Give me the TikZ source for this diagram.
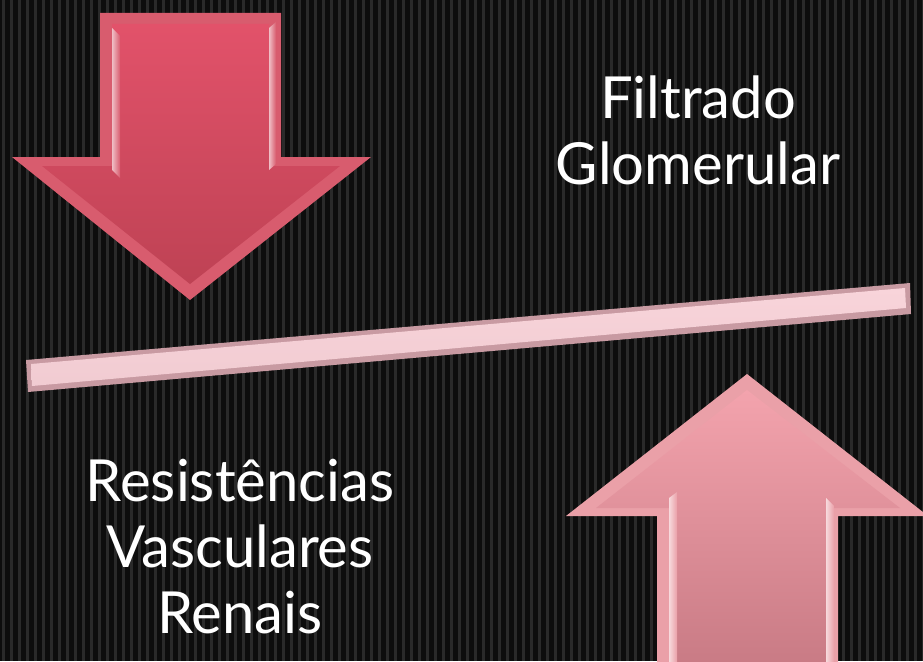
\documentclass[tikz,border=0pt]{standalone}
\usepackage{fontspec}
\setmainfont{Lato}
\usetikzlibrary{positioning}

\definecolor{bgstripe}{HTML}{2A2A2A}
\definecolor{downtop}{HTML}{E2526A}
\definecolor{downbot}{HTML}{BE4254}
\definecolor{downedge}{HTML}{D85C6E}
\definecolor{uptop}{HTML}{F3A3AD}
\definecolor{upbot}{HTML}{C87A84}
\definecolor{upedge}{HTML}{EAA0A8}
\definecolor{barfill}{HTML}{F8D4DA}
\definecolor{baredge}{HTML}{C89AA2}

\tikzset{
  label text/.style={text=white, font=\fontsize{58}{66}\selectfont, align=center},
  shine/.style={left color=white!60!#1, right color=#1, draw=none},
}

\begin{document}
\begin{tikzpicture}[x=1pt,y=-1pt]
\useasboundingbox (0,0) rectangle (923,661);
\clip (0,0) rectangle (923,661);
\fill[black!95] (0,0) rectangle (923,661);
\foreach \i in {0,...,115}
  \fill[bgstripe] (\i*8+2,0) rectangle (\i*8+5,661);

% down arrow
\fill[downedge] (100,13) -- (281,13) -- (281,157) -- (371,157) -- (190,300) -- (12,157) -- (100,157) -- cycle;
\shade[top color=downtop, bottom color=downbot] (112,24) -- (269,24) -- (269,166) -- (340,166) -- (190,284) -- (42,166) -- (112,166) -- cycle;
\shade[shine=downedge] (112,28) -- (120,36) -- (120,178) -- (112,170) -- cycle;
\shade[shine=downedge] (269,28) -- (276,22) -- (276,164) -- (269,170) -- cycle;

% up arrow
\fill[upedge] (747,374) -- (928,516) -- (838,516) -- (838,670) -- (657,670) -- (657,516) -- (566,516) -- cycle;
\shade[top color=uptop, bottom color=upbot] (747,390) -- (900,508) -- (826,508) -- (826,670) -- (669,670) -- (669,508) -- (596,508) -- cycle;
\shade[shine=upedge] (669,498) -- (677,492) -- (677,670) -- (669,670) -- cycle;
\shade[shine=upedge] (826,498) -- (834,506) -- (834,670) -- (826,670) -- cycle;

% bar
\fill[baredge] (26,360) -- (910,283) -- (911,314) -- (28,392) -- cycle;
\shade[top color=barfill, bottom color=barfill!85!baredge] (31,364) -- (905,288) -- (906,308) -- (32,386) -- cycle;

\node[label text] (filtrado) at (698,130) {Filtrado\\Glomerular};
\node[label text] (resist) at (240,547) {Resistências\\Vasculares\\Renais};
\end{tikzpicture}
\end{document}
